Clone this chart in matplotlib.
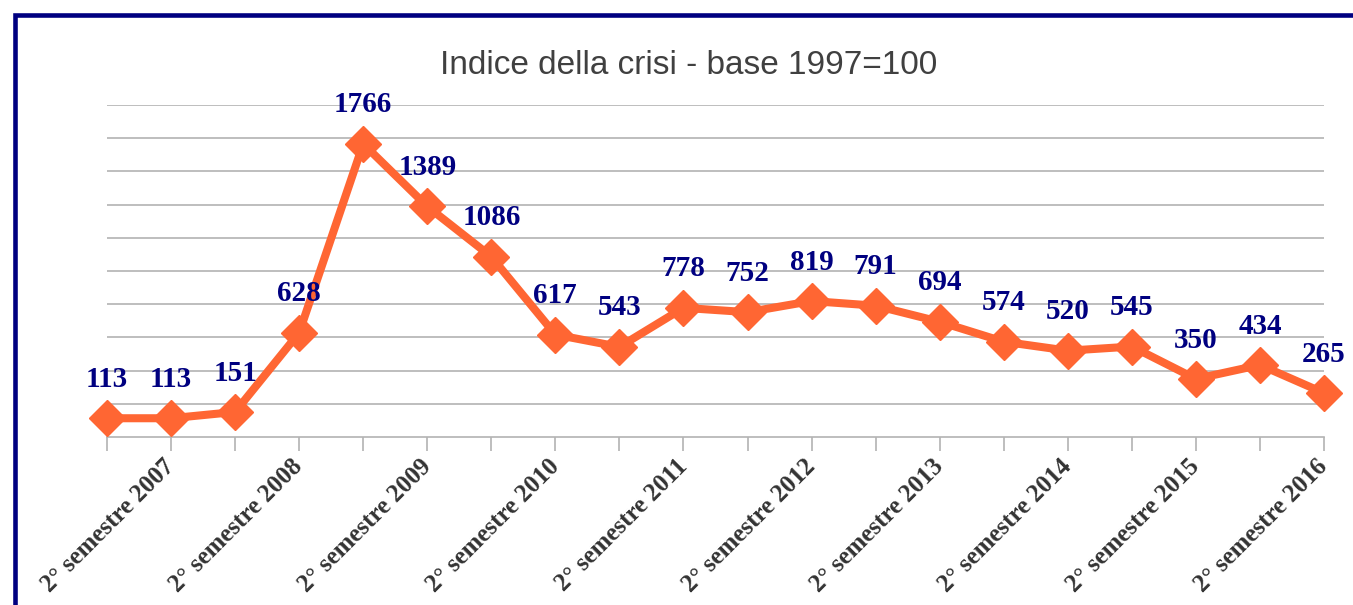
import matplotlib
matplotlib.use("Agg")
import matplotlib.pyplot as plt
from matplotlib.patches import Rectangle

# semestri dal 1° semestre 2007 al 2° semestre 2016
anni = list(range(2007, 2017))
semestri = []
for a in anni:
    semestri.append("1° semestre %d" % a)
    semestri.append("2° semestre %d" % a)

indice = [113, 113, 151, 628, 1766, 1389, 1086, 617, 543, 778,
          752, 819, 791, 694, 574, 520, 545, 350, 434, 265]

titolo = "Indice della crisi - base 1997=100"

W, H = 1353, 605
fig = plt.figure(figsize=(W / 100, H / 100), dpi=100)
ax = fig.add_axes([107 / W, 1 - 437 / H, (1324 - 107) / W, (437 - 105) / H])

x = list(range(len(indice)))
ax.plot(x, indice, color="#ff6633", lw=5.8, marker="D", ms=18,
        clip_on=False, zorder=3)

# etichette dei valori
for xi, v in zip(x, indice):
    ax.annotate(str(v), (xi, v), xytext=(0, 28), textcoords="offset points",
                ha="center", va="center", fontsize=21, fontweight="bold",
                family="Liberation Serif", color="#000080", zorder=4)

ax.set_xlim(0, len(indice) - 1)
ax.set_ylim(0, 2000)
ax.set_yticks(range(200, 2001, 200))
ax.yaxis.grid(True, color="#b3b3b3", lw=1.2)
ax.set_axisbelow(True)
ax.tick_params(axis="y", left=False, labelleft=False)

ax.set_xticks(x)
ax.set_xticklabels(semestri, rotation=45, ha="right", va="center",
                   rotation_mode="anchor", fontsize=18, fontweight="bold",
                   family="Liberation Serif", color="#333333")
for i, lab in enumerate(ax.get_xticklabels()):
    lab.set_visible(i % 2 == 1)
ax.tick_params(axis="x", length=10, color="#b3b3b3", width=1.2, pad=9)

for s in ["left", "right", "top"]:
    ax.spines[s].set_visible(False)
ax.spines["bottom"].set_color("#b3b3b3")
ax.spines["bottom"].set_linewidth(1.2)

fig.text(689 / W, 1 - 65 / H, titolo, ha="center", va="center",
         fontsize=24, family="Liberation Sans", color="#404040")

# cornice blu
fig.patches.append(Rectangle((14.5 / W, -0.1), 1.2, 1 - 14.5 / H + 0.1,
                             transform=fig.transFigure, fill=False,
                             ec="#000080", lw=3.3))

fig.savefig("out.png", dpi=100)
